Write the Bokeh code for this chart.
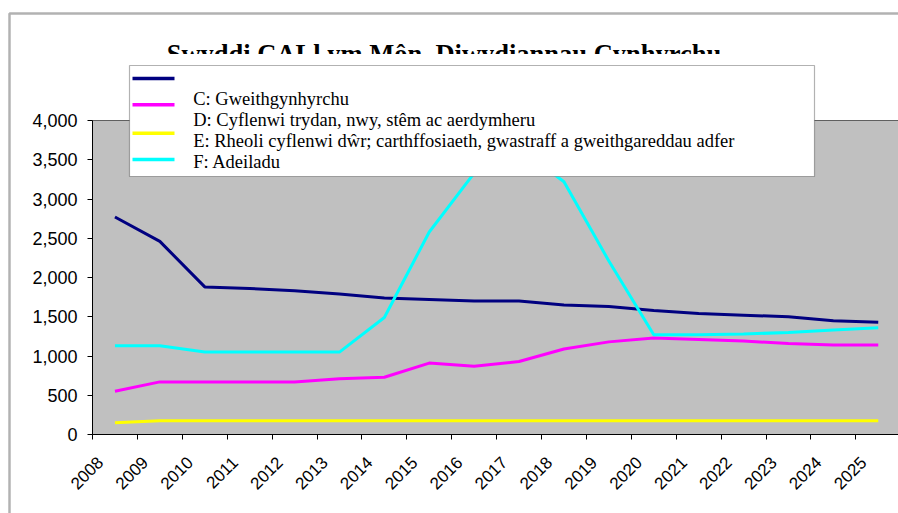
import math
from bokeh.plotting import figure
from bokeh.models import Range1d, FixedTicker, NumeralTickFormatter, Label, BoxAnnotation
from bokeh.embed import file_html
from bokeh.resources import INLINE

# ---------------- data ----------------
years = list(range(2008, 2026))
year_labels = [str(y) for y in years]
c_gweithgynhyrchu = [2770, 2460, 1880, 1860, 1830, 1790, 1740, 1720, 1700, 1700,
                     1650, 1630, 1580, 1540, 1520, 1500, 1450, 1430]
d_cyflenwi_trydan = [550, 670, 670, 670, 670, 710, 730, 910, 870, 930,
                     1090, 1180, 1230, 1210, 1190, 1160, 1140, 1140]
e_rheoli_dwr = [150, 175, 175, 175, 175, 175, 175, 175, 175, 175,
                175, 175, 175, 175, 175, 175, 175, 175]
f_adeiladu = [1130, 1130, 1050, 1050, 1050, 1050, 1490, 2580, 3330, 3650,
              3220, 2210, 1270, 1270, 1280, 1300, 1330, 1360]
series_names = [
    "C: Gweithgynhyrchu",
    "D: Cyflenwi trydan, nwy, stêm ac aerdymheru",
    "E: Rheoli cyflenwi dŵr; carthffosiaeth, gwastraff a gweithgareddau adfer",
    "F: Adeiladu",
]
series_values = [c_gweithgynhyrchu, d_cyflenwi_trydan, e_rheoli_dwr, f_adeiladu]
series_colors = ["#000080", "#FF00FF", "#FFFF00", "#00FFFF"]
y_ticks = list(range(0, 4001, 500))
y_max = 4000
title_text = "Swyddi CALl ym Môn, Diwydiannau Cynhyrchu"

# ---------------- layout (canvas px) ----------------
W, H = 898, 513
PL, PT, PB = 92, 120, 434          # plot-area left / top / bottom
CAT_W = 44.9                       # px per category
UNIT = y_max / (PB - PT)           # data units per px (y)
x0 = years[0] - 0.5
x_start = x0 - PL / CAT_W
x_end = x0 + (W - PL) / CAT_W
y_top = PB * UNIT
y_bottom = -(H - PB) * UNIT

p = figure(width=W, height=H, output_backend="svg", toolbar_location=None,
           x_range=Range1d(x_start, x_end), y_range=Range1d(y_bottom, y_top),
           min_border_left=0, min_border_right=0, min_border_top=0,
           min_border_bottom=0)
p.background_fill_color = "white"
p.border_fill_color = "white"
p.outline_line_color = None

# grey plot area
p.add_layout(BoxAnnotation(left=x0, right=x_end, bottom=0, top=y_max,
                           fill_color="#C0C0C0", fill_alpha=1, line_color=None,
                           level="underlay"))

# horizontal gridlines restricted to the plot area
p.xgrid.grid_line_color = None
grid = p.ygrid[0]
grid.ticker = FixedTicker(ticks=y_ticks)
grid.grid_line_color = "black"
grid.grid_line_width = 1
try:
    grid.cross_bounds = (x0, x_end)
except Exception:
    grid.grid_line_color = None
    p.segment(x0=[x0] * len(y_ticks), x1=[x_end] * len(y_ticks),
              y0=y_ticks, y1=y_ticks, line_color="black", line_width=1)

for vals, col in zip(series_values, series_colors):
    p.line(years, vals, line_width=3, line_color=col)

# y axis, pinned to the plot-area's left edge
yax = p.yaxis[0]
yax.fixed_location = x0
yax.bounds = (0, y_max)
yax.ticker = FixedTicker(ticks=y_ticks)
yax.formatter = NumeralTickFormatter(format="0,0")
yax.major_label_text_font = "Liberation Sans"
yax.major_label_text_font_size = "18px"
yax.major_label_text_color = "black"
yax.major_tick_out = 5
yax.major_tick_in = 0
yax.minor_tick_line_color = None
yax.axis_line_color = "black"
yax.major_tick_line_color = "black"
yax.major_label_standoff = 10

# x axis pinned at y=0: tick marks on category boundaries, labels near centres
shift = 0.33
label_ticks = [y - shift for y in years]
xax = p.xaxis[0]
xax.fixed_location = 0
xax.bounds = (x0, x_end)
xax.ticker = FixedTicker(ticks=label_ticks,
                         minor_ticks=[y - 0.5 for y in years] + [years[-1] + 0.5])
xax.major_label_overrides = {t: lab for t, lab in zip(label_ticks, year_labels)}
xax.major_label_orientation = math.pi / 4
xax.major_label_text_font = "Liberation Sans"
xax.major_label_text_font_size = "17px"
xax.major_label_text_color = "black"
xax.major_tick_line_color = None
xax.major_tick_out = 0
xax.major_tick_in = 0
xax.minor_tick_line_color = "black"
xax.minor_tick_out = 5
xax.minor_tick_in = 0
xax.axis_line_color = "black"
xax.major_label_standoff = 20

# canvas px -> frame screen coordinates (frame spans the whole canvas)
def fx(px):
    return px

def fy(py):
    return H - py

def sbox(**kw):
    return BoxAnnotation(left_units="screen", right_units="screen",
                         top_units="screen", bottom_units="screen", **kw)

# outer chart border
p.add_layout(sbox(left=fx(9), right=fx(930), top=fy(13), bottom=fy(560),
                  fill_alpha=0, line_color="black", line_width=2.5))

# title (clipped at its baseline, as in the original)
p.add_layout(Label(x=fx(443.5), y=fy(53), x_units="screen", y_units="screen",
                   text=title_text, text_font="Liberation Serif", text_font_style="bold",
                   text_font_size="26.5px", text_align="center",
                   text_baseline="alphabetic", text_color="black"))
p.add_layout(sbox(left=fx(150), right=fx(760), top=fy(53.5), bottom=fy(66),
                  fill_color="white", fill_alpha=1, line_color=None))

# legend (laid out as in the original)
p.add_layout(sbox(left=fx(129), right=fx(814), top=fy(65), bottom=fy(176),
                  fill_color="white", fill_alpha=1, line_color="black", line_width=1.2))
line_rows = [78, 104.3, 132.7, 159]
text_rows = [98.3, 119.3, 140.7, 161.7]
for name, col, ly, ty in zip(series_names, series_colors, line_rows, text_rows):
    p.add_layout(sbox(left=fx(132), right=fx(174), top=fy(ly - 1.7), bottom=fy(ly + 1.7),
                      fill_color=col, fill_alpha=1, line_color=None))
    p.add_layout(Label(x=fx(192.7), y=fy(ty), x_units="screen", y_units="screen",
                       text=name, text_font="Liberation Serif", text_font_size="18.5px",
                       text_align="left", text_baseline="alphabetic",
                       text_color="black"))

open("out.html", "w").write(file_html(p, INLINE))
